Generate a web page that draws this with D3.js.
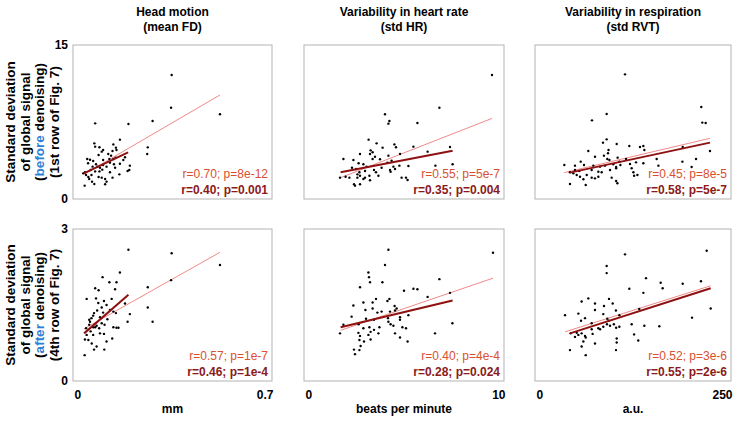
<!DOCTYPE html>
<html><head><meta charset="utf-8">
<script src="https://cdn.jsdelivr.net/npm/d3@7"></script>
<style>body{margin:0;background:#fff}svg{display:block;font-family:"Liberation Sans",Arial,sans-serif}</style>
</head><body><svg id="c" width="743" height="425"></svg>
<script>
// ---- data ----
const columnTitles = [["Head motion","(mean FD)"],["Variability in heart rate","(std HR)"],["Variability in respiration","(std RVT)"]];
const xUnits = ["mm","beats per minute","a.u."];
const xMax = [0.7, 10, 250];
const yMax = [15, 3];
const xTickLabels = [["0","0.7"],["0","10"],["0","250"]];
const yTickLabels = [["0","15"],["0","3"]];
const rowLabels = [["Standard deviation","of global signal","before","(1st row of Fig. 7)"],["Standard deviation","of global signal","after","(4th row of Fig. 7)"]];

// row 0 (before denoising)
const motionBefore = [[0.347,12.08],[0.345,8.89],[0.517,8.25],[0.078,7.37],[0.195,7.31],[0.28,7.6],[0.263,5.03],[0.261,4.38],[0.165,5.78],[0.075,5.42],[0.078,5.1],[0.093,5.04],[0.101,4.61],[0.106,4.77],[0.09,4.29],[0.142,5.32],[0.151,5.0],[0.139,4.68],[0.124,4.38],[0.134,4.22],[0.15,4.03],[0.183,4.06],[0.2,3.25],[0.198,2.82],[0.192,2.73],[0.05,3.9],[0.06,3.83],[0.071,3.7],[0.081,3.38],[0.086,3.15],[0.095,3.05],[0.103,2.86],[0.106,3.31],[0.118,3.15],[0.13,3.54],[0.144,3.38],[0.148,3.05],[0.165,3.44],[0.042,2.6],[0.046,2.34],[0.054,2.14],[0.065,2.34],[0.057,1.95],[0.067,1.69],[0.075,1.46],[0.09,2.14],[0.101,2.08],[0.113,1.95],[0.118,1.69],[0.13,2.6],[0.139,2.08],[0.163,2.4],[0.041,1.3],[0.113,1.43],[0.177,3.8],[0.062,2.82],[0.069,3.15],[0.093,2.69],[0.078,2.69],[0.036,2.5],[0.142,3.9],[0.128,3.9],[0.053,3.48],[0.106,3.8],[0.153,4.77]];
const hrBefore = [[9.4,12.08],[6.77,8.89],[4.05,8.25],[4.27,7.6],[4.22,7.34],[5.67,7.4],[3.23,5.78],[3.63,5.42],[4.52,5.32],[4.6,5.04],[5.47,5.1],[7.3,5.07],[6.18,4.61],[3.33,4.74],[3.43,4.55],[2.8,4.38],[3.3,4.38],[3.93,5.0],[4.22,4.22],[3.55,4.12],[4.8,4.38],[1.97,3.9],[2.47,3.8],[3.43,3.9],[3.8,3.87],[2.73,3.48],[2.97,3.38],[4.17,3.54],[4.38,3.73],[6.57,3.25],[7.43,3.38],[2.4,3.05],[3.13,3.15],[3.88,3.05],[4.47,3.15],[4.77,3.25],[5.22,3.22],[4.3,2.82],[4.55,2.92],[2.67,2.4],[2.8,2.27],[3.05,2.08],[3.27,2.27],[3.5,2.82],[2.27,2.08],[1.8,2.08],[2.08,2.17],[2.5,1.43],[2.55,1.3],[2.8,1.43],[2.97,1.95],[3.3,1.82],[3.72,2.27],[4.88,2.08],[5.1,2.08],[5.18,1.85],[2.67,2.08],[2.77,2.6],[3.05,2.73],[3.6,2.6],[4.33,2.66],[2.6,2.92]];
const rvtBefore = [[114.8,12.14],[212.1,8.96],[213.4,7.44],[217.7,7.4],[72.7,7.66],[91.4,8.28],[86.7,5.49],[91.4,5.81],[104.2,5.36],[120.3,5.16],[133.9,5.07],[138.2,5.16],[139.5,4.77],[188.4,5.07],[223.2,4.68],[68,4.68],[76.5,4.12],[87.9,4.22],[93.1,4.45],[93.8,4.77],[92.2,3.9],[94.9,3.8],[105.4,4.03],[107.6,3.64],[116.1,3.9],[108.9,3.31],[121.2,3.41],[128.9,3.57],[138.2,3.48],[155.2,3.9],[157.4,3.25],[188,3.64],[205.4,3.9],[199.8,3.12],[37.4,3.31],[58.3,3.64],[51,3.25],[62.5,3.31],[74.4,3.25],[83,3.15],[89.4,3.25],[99.8,3.38],[103.5,3.12],[72.3,2.82],[80.8,2.66],[95.7,2.82],[103.5,2.99],[123.3,2.99],[125.5,2.6],[130.6,2.34],[126.4,2.27],[44.6,2.6],[48.9,2.5],[53.2,2.34],[57.4,2.17],[61.7,1.92],[66,2.34],[72.3,2.08],[76.5,2.01],[80.8,2.17],[85.1,2.6],[97.8,2.08],[103.5,1.75],[105.1,1.53],[44.6,1.46],[64.7,1.36],[56.5,2.73],[51,2.82]];
// row 1 (after denoising)
const motionAfter = [[0.195,2.59],[0.347,2.52],[0.517,2.29],[0.345,1.99],[0.263,1.85],[0.263,1.45],[0.28,1.17],[0.2,1.32],[0.192,1.17],[0.165,2.14],[0.104,2.05],[0.128,1.95],[0.153,1.95],[0.078,1.83],[0.09,1.79],[0.148,1.81],[0.048,1.62],[0.081,1.63],[0.109,1.58],[0.136,1.62],[0.089,1.54],[0.118,1.5],[0.101,1.45],[0.085,1.39],[0.074,1.34],[0.065,1.24],[0.057,1.21],[0.071,1.29],[0.095,1.26],[0.106,1.35],[0.13,1.4],[0.142,1.37],[0.151,1.34],[0.183,1.53],[0.121,1.22],[0.142,1.06],[0.153,1.05],[0.16,1.05],[0.101,1.14],[0.083,1.09],[0.071,1.06],[0.057,1.11],[0.046,1.04],[0.062,0.98],[0.048,0.91],[0.042,0.82],[0.054,0.81],[0.071,0.91],[0.078,1.06],[0.095,0.94],[0.109,0.93],[0.118,0.78],[0.138,0.84],[0.066,0.74],[0.083,0.68],[0.074,0.62],[0.11,0.62],[0.041,0.51],[0.06,1.17],[0.092,1.04],[0.111,1.11]];
const hrAfter = [[9.45,2.53],[4.22,2.59],[4.05,2.29],[3.22,2.14],[3.25,2.05],[3.3,1.95],[3.92,1.95],[6.77,2.01],[2.8,1.85],[5.0,1.78],[5.47,1.82],[5.67,1.81],[7.3,1.74],[6.18,1.66],[4.27,1.62],[4.17,1.58],[3.6,1.62],[2.97,1.55],[3.43,1.55],[2.47,1.49],[3.07,1.4],[3.43,1.43],[3.67,1.35],[3.88,1.37],[4.53,1.48],[4.63,1.43],[4.3,1.37],[4.55,1.39],[2.38,1.27],[3.1,1.23],[3.5,1.21],[4.2,1.24],[4.8,1.26],[4.8,1.21],[5.22,1.3],[1.97,1.11],[2.73,1.12],[2.97,1.04],[3.27,1.06],[3.5,1.01],[3.77,1.06],[4.22,1.17],[4.33,1.12],[4.47,1.09],[4.92,1.06],[5.1,1.04],[7.42,1.14],[1.8,0.94],[2.72,0.95],[2.8,0.89],[3.22,0.91],[3.33,0.97],[3.72,0.94],[4.55,0.94],[6.55,0.94],[2.77,0.81],[3.0,0.78],[4.8,0.86],[5.18,0.78],[2.83,0.69],[2.5,0.62],[2.77,0.61],[2.55,0.53],[3.33,0.82]];
const rvtAfter = [[114.8,2.5],[219,2.57],[91.4,2.27],[91.4,2.13],[141.6,2.03],[160.3,1.94],[162.8,1.83],[188.4,1.92],[211.7,1.97],[120.3,1.82],[138.2,1.74],[59.5,1.57],[68,1.63],[94.4,1.62],[99.1,1.53],[76.5,1.53],[76.5,1.4],[88,1.48],[103.2,1.39],[55.3,1.33],[63.8,1.24],[87.1,1.32],[92.2,1.23],[107.6,1.3],[38.3,1.3],[58.7,1.19],[72.3,1.14],[80.8,1.04],[83,1.02],[87.1,1.07],[91.8,1.12],[95.7,1.09],[94,1.19],[100.6,1.12],[103.5,1.05],[107.6,1.07],[123.3,1.12],[133,1.42],[139.5,1.09],[158.6,1.08],[200.3,1.25],[224.1,1.43],[45.5,0.94],[51,0.87],[55.3,0.91],[59.5,0.94],[63.8,0.89],[64.7,0.86],[73.5,0.93],[61.7,0.78],[59.5,0.68],[76.5,0.74],[44.6,0.61],[64.7,0.51],[104.2,0.84],[104.2,0.76],[103.3,0.61],[126.4,0.92],[131.7,0.8],[53.2,0.95],[72.3,1.02]];

// fitted lines: [x0, y0, x1, y1]  (all subjects / restricted fit)
const fitAll = [[[0.038,2.4,0.517,10.13],[1.83,2.08,9.4,7.85],[37.4,2.57,223.2,5.91]],[[0.039,1.03,0.517,2.54],[1.83,1.0,9.45,2.03],[38.3,0.97,224.1,1.88]]];
const fitSub = [[[0.038,2.5,0.194,4.55],[1.83,2.6,7.43,4.7],[44.6,2.57,223.2,5.49]],[[0.039,0.94,0.195,1.7],[1.83,1.06,7.43,1.59],[44.6,0.94,224.1,1.83]]];
const statsAll = [["r=0.70; p=8e-12","r=0.55; p=5e-7","r=0.45; p=8e-5"],["r=0.57; p=1e-7","r=0.40; p=4e-4","r=0.52; p=3e-6"]];
const statsSub = [["r=0.40; p=0.001","r=0.35; p=0.004","r=0.58; p=5e-7"],["r=0.46; p=1e-4","r=0.28; p=0.024","r=0.55; p=2e-6"]];
const points = [[motionBefore,hrBefore,rvtBefore],[motionAfter,hrAfter,rvtAfter]];

// ---- layout ----
const colX = [[73,272],[304,504],[535,731]];
const rowY = [[45,199],[229,381]];
const svg = d3.select("#c");
const lightRed = "#f08a8a", darkRed = "#8e1010", lightText = "#d9502f", darkText = "#8b1a1a", blue = "#2e7fd6";

// column titles
columnTitles.forEach((t,c)=>{
  const cx = (colX[c][0]+colX[c][1])/2;
  const g = svg.append("text").attr("text-anchor","middle").attr("font-size",12).attr("font-weight","bold");
  g.append("tspan").attr("x",cx).attr("y",16).text(t[0]);
  g.append("tspan").attr("x",cx).attr("y",31).text(t[1]);
});

for (let r=0;r<2;r++){
  // row label
  const cy = (rowY[r][0]+rowY[r][1])/2;
  const lab = rowLabels[r];
  const tl = svg.append("text").attr("transform",`translate(0,${cy}) rotate(-90)`).attr("text-anchor","middle").attr("font-size",13.5).attr("font-weight","bold");
  tl.append("tspan").attr("x",0).attr("y",15).text(lab[0]);
  tl.append("tspan").attr("x",0).attr("y",29.5).text(lab[1]);
  const t3 = tl.append("tspan").attr("x",0).attr("y",44);
  t3.append("tspan").text("(");
  t3.append("tspan").attr("fill",blue).text(lab[2]);
  t3.append("tspan").text(" denoising)");
  tl.append("tspan").attr("x",0).attr("y",58.5).text(lab[3]);

  for (let c=0;c<3;c++){
    const x = d3.scaleLinear().domain([0,xMax[c]]).range(colX[c]);
    const y = d3.scaleLinear().domain([0,yMax[r]]).range([rowY[r][1],rowY[r][0]]);
    const g = svg.append("g");
    g.append("rect").attr("x",colX[c][0]).attr("y",rowY[r][0]).attr("width",colX[c][1]-colX[c][0]).attr("height",rowY[r][1]-rowY[r][0])
      .attr("fill","none").attr("stroke","#b3b3b3").attr("stroke-width",1);
    if (c===0){
      const ya = d3.axisLeft(y).tickValues([0,yMax[r]]).tickSize(0).tickPadding(5).tickFormat((d,i)=>yTickLabels[r][i]);
      const ag = g.append("g").attr("transform",`translate(${colX[c][0]},0)`).call(ya);
      ag.select(".domain").remove();
      ag.selectAll("text").attr("font-size",12).attr("font-weight","bold").attr("fill","#000").attr("font-family","Liberation Sans, Arial, sans-serif");
    }
    if (r===1){
      const xa = d3.axisBottom(x).tickValues([0,xMax[c]]).tickSize(0).tickPadding(9).tickFormat((d,i)=>xTickLabels[c][i]);
      const ag = g.append("g").attr("transform",`translate(0,${rowY[r][1]})`).call(xa);
      ag.select(".domain").remove();
      ag.selectAll("text").attr("font-size",12).attr("font-weight","bold").attr("fill","#000").attr("font-family","Liberation Sans, Arial, sans-serif")
        .attr("text-anchor",(d,i)=> i===0 ? "start" : "end").attr("dx",1);
      g.append("text").attr("x",(colX[c][0]+colX[c][1])/2).attr("y",413).attr("text-anchor","middle")
        .attr("font-size",12).attr("font-weight","bold").text(xUnits[c]);
    }
    const fa = fitAll[r][c], fs = fitSub[r][c];
    g.append("line").attr("x1",x(fa[0])).attr("y1",y(fa[1])).attr("x2",x(fa[2])).attr("y2",y(fa[3])).attr("stroke",lightRed).attr("stroke-width",1);
    g.selectAll("circle").data(points[r][c]).join("circle").attr("cx",d=>x(d[0])).attr("cy",d=>y(d[1])).attr("r",1.2).attr("fill","#000");
    g.append("line").attr("x1",x(fs[0])).attr("y1",y(fs[1])).attr("x2",x(fs[2])).attr("y2",y(fs[3])).attr("stroke",darkRed).attr("stroke-width",2);
    const xr = colX[c][1]-4;
    g.append("text").attr("x",xr).attr("y",rowY[r][1]-21).attr("text-anchor","end").attr("font-size",12).attr("fill",lightText).text(statsAll[r][c]);
    g.append("text").attr("x",xr).attr("y",rowY[r][1]-5).attr("text-anchor","end").attr("font-size",12).attr("font-weight","bold").attr("fill",darkText).text(statsSub[r][c]);
  }
}
</script></body></html>
